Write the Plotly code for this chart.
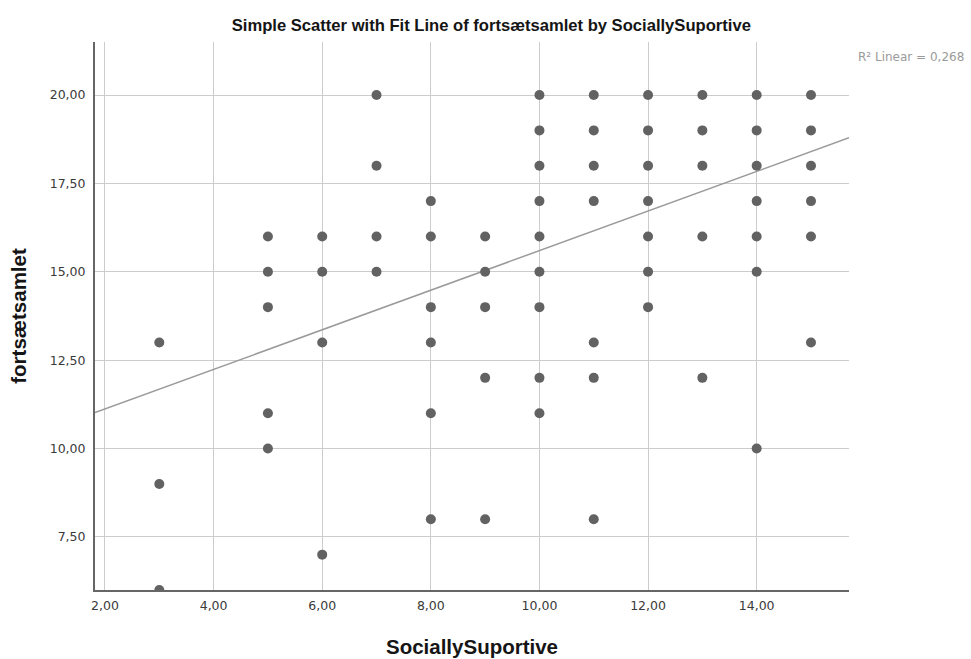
import plotly.graph_objects as go

# Data (SociallySuportive, fortsætsamlet)
social = [3, 3, 3,
          5, 5, 5, 5, 5,
          6, 6, 6, 6,
          7, 7, 7, 7,
          8, 8, 8, 8, 8, 8,
          9, 9, 9, 9, 9,
          10, 10, 10, 10, 10, 10, 10, 10, 10,
          11, 11, 11, 11, 11, 11, 11,
          12, 12, 12, 12, 12, 12, 12,
          13, 13, 13, 13, 13,
          14, 14, 14, 14, 14, 14, 14,
          15, 15, 15, 15, 15, 15]
forts = [13, 9, 6,
         16, 15, 14, 11, 10,
         16, 15, 13, 7,
         20, 18, 16, 15,
         17, 16, 14, 13, 11, 8,
         16, 15, 14, 12, 8,
         20, 19, 18, 17, 16, 15, 14, 12, 11,
         20, 19, 18, 17, 13, 12, 8,
         20, 19, 18, 17, 16, 15, 14,
         20, 19, 18, 16, 12,
         20, 19, 18, 17, 16, 15, 10,
         20, 19, 18, 17, 16, 13]

fit_intercept = 10.0
fit_slope = 0.56
r2_text = "R² Linear = 0,268"

x_range = [1.816, 15.70]
y_range = [6.0, 21.5]
x_ticks = [2, 4, 6, 8, 10, 12, 14]
y_ticks = [7.5, 10, 12.5, 15, 17.5, 20]

fit_x = x_range
fit_y = [fit_intercept + fit_slope * v for v in fit_x]

fig = go.Figure()
fig.add_trace(go.Scatter(
    x=fit_x, y=fit_y, mode="lines",
    line=dict(color="#9a9a9a", width=1.5),
    hoverinfo="skip", showlegend=False))
fig.add_trace(go.Scatter(
    x=social, y=forts, mode="markers",
    marker=dict(size=10, color="#626262", line=dict(width=0)),
    showlegend=False))

tick_font = dict(family="DejaVu Sans, sans-serif", size=12.5, color="#3a3a3a")
title_family = "Liberation Sans, Arial, sans-serif"

fig.update_layout(
    width=971, height=659,
    margin=dict(l=95, r=122, t=42, b=69, autoexpand=False),
    paper_bgcolor="white", plot_bgcolor="white",
    separators=",.",
    font=dict(family=title_family, color="#222222"),
    title=dict(text="<b>Simple Scatter with Fit Line of fortsætsamlet by SociallySuportive</b>",
               x=0.506, xanchor="center", y=0.962, yanchor="middle",
               font=dict(family=title_family, size=16.6, color="#151515")),
    xaxis=dict(range=x_range, tickvals=x_ticks, tickformat=".2f",
               showgrid=True, gridcolor="#cccccc", gridwidth=1.2,
               showline=True, linecolor="#666666", linewidth=2,
               zeroline=False, ticks="", tickfont=tick_font, ticklabelstandoff=3,
               automargin=False,
               title=dict(text="<b>SociallySuportive</b>",
                          font=dict(family=title_family, size=20.5, color="#151515"), standoff=28)),
    yaxis=dict(range=y_range, tickvals=y_ticks, tickformat=".2f",
               showgrid=True, gridcolor="#cccccc", gridwidth=1.2,
               showline=True, linecolor="#666666", linewidth=2,
               zeroline=False, ticks="", tickfont=tick_font, ticklabelstandoff=5,
               automargin=False,
               title=dict(text="<b>fortsætsamlet</b>",
                          font=dict(family=title_family, size=20.5, color="#151515"), standoff=18)),
    annotations=[dict(text=r2_text, xref="paper", yref="paper",
                      x=(966 - 95) / 754, y=0.9726, xanchor="right", yanchor="middle",
                      showarrow=False,
                      font=dict(family="DejaVu Sans, sans-serif", size=12, color="#9a9a9a"))],
)

fig.write_html("out.html")
